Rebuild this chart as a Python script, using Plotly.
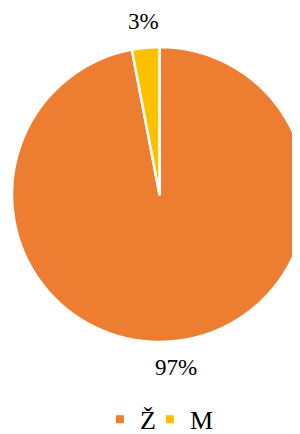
import math
import plotly.graph_objects as go

labels = ["Ž", "M"]
values = [97, 3]
colors = ["#ED7D31", "#FFC000"]

SERIF = "'Liberation Serif', 'Times New Roman', Times, serif"

fig = go.Figure()
fig.add_trace(go.Pie(
    labels=labels,
    values=values,
    sort=False,
    direction="clockwise",
    rotation=0,
    marker=dict(colors=colors, line=dict(color="white", width=2.5)),
    textinfo="none",
    textposition="none",
    showlegend=False,
    hoverinfo="label+percent",
    domain=dict(x=[0, 1], y=[0, 1]),
))
for lab, col in zip(labels, colors):
    fig.add_trace(go.Scatter(
        x=[None], y=[None], mode="markers", name=lab,
        marker=dict(symbol="square", size=8, color=col),
        showlegend=True,
    ))
# invisible spacer entry so the last legend label is not clipped
fig.add_trace(go.Scatter(
    x=[None], y=[None], mode="markers", name=" ",
    marker=dict(symbol="square", size=8, color="rgba(0,0,0,0)"),
    showlegend=True, hoverinfo="skip",
))

# outside data labels along each slice's mid-angle (pie fills a square domain)
total = sum(values)
cum = 0
label_radius = 1.175  # relative to the pie radius
annotations = []
for v in values:
    mid = (cum + v / 2) / total * 2 * math.pi  # clockwise from 12 o'clock
    cum += v
    px = 0.5 + 0.5 * label_radius * math.sin(mid)
    py = 0.5 + 0.5 * label_radius * math.cos(mid)
    annotations.append(dict(
        x=px, y=py, xref="paper", yref="paper",
        text=f"{round(v / total * 100)}%", showarrow=False,
        xanchor="center", yanchor="middle",
        font=dict(family=SERIF, size=23, color="black"),
    ))

fig.update_layout(
    width=300, height=434,
    margin=dict(l=4, r=1, t=39, b=100, autoexpand=False),
    paper_bgcolor="white", plot_bgcolor="white",
    font=dict(family=SERIF, color="black"),
    xaxis=dict(visible=False), yaxis=dict(visible=False),
    showlegend=True,
    annotations=annotations,
    legend=dict(orientation="h", x=0.298, xanchor="left", xref="paper",
                y=-0.262, yanchor="middle", bgcolor="rgba(0,0,0,0)",
                font=dict(family=SERIF, size=26, color="black"),
                itemwidth=30, entrywidth=5),
)
fig.write_html("out.html")
